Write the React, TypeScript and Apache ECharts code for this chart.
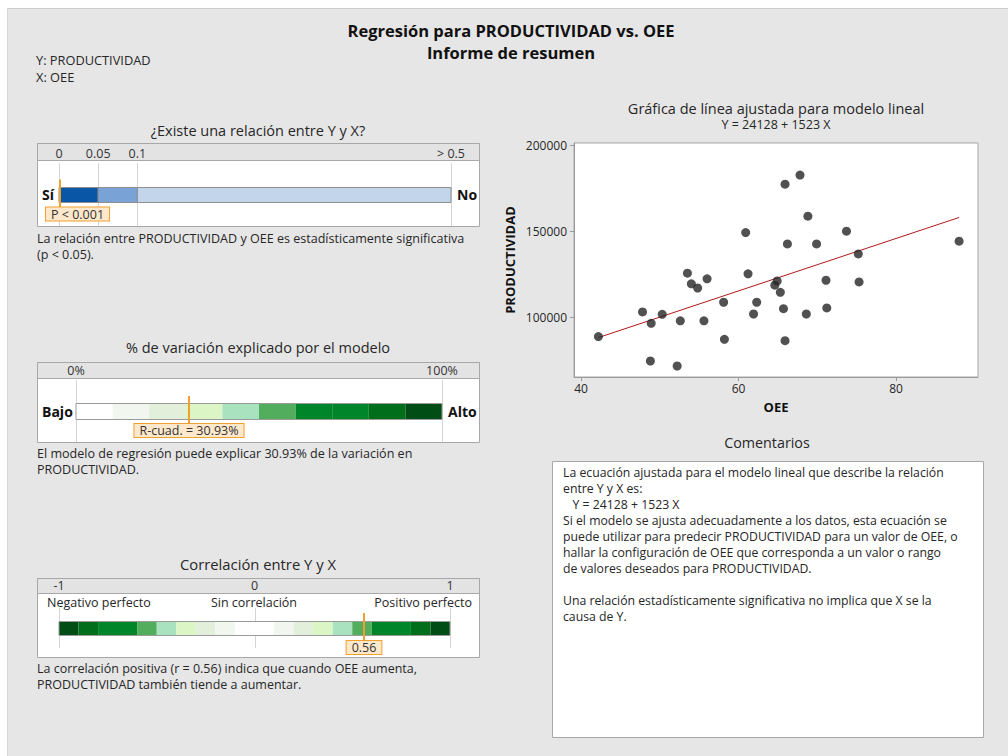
import React, { useEffect, useRef } from "react";
import * as echarts from "echarts";

const FONT = "'Open Sans', 'Noto Sans', sans-serif";

// ---- p-value gauge ----
const pTickValues = [0, 0.05, 0.1, 0.5];
const pTickLabels = ["0", "0.05", "0.1", "> 0.5"];
const pTickUnits = [0, 1, 2, 10]; // display position of each tick on the gauge
const pSegmentColors = ["#0a56a6", "#79a2d6", "#c3d5eb"];
const pValue = 0.001;
const pValueLabel = "P < 0.001";

// ---- R-squared gauge ----
const r2Breaks = [0, 10, 20, 30, 40, 50, 60, 70, 80, 90, 100];
const r2Colors = ["#ffffff", "#f1f7ee", "#e2efda", "#dbf5c4", "#a8e2bf", "#52ae5c", "#00852b", "#00852b", "#006e1a", "#004d15"];
const r2Ticks = [0, 100];
const r2TickLabels = ["0%", "100%"];
const r2Value = 30.93;
const r2ValueLabel = "R-cuad. = 30.93%";

// ---- correlation gauge ----
const corrBreaks = [-1, -0.9, -0.8, -0.6, -0.5, -0.4, -0.3, -0.2, -0.1, 0.1, 0.2, 0.3, 0.4, 0.5, 0.6, 0.8, 0.9, 1];
const corrColors = ["#004d15", "#006e1a", "#00852b", "#52ae5c", "#a8e2bf", "#dbf5c4", "#e2efda", "#f1f7ee", "#ffffff", "#f1f7ee", "#e2efda", "#dbf5c4", "#a8e2bf", "#52ae5c", "#00852b", "#006e1a", "#004d15"];
const corrTicks = [-1, 0, 1];
const corrTickLabels = ["-1", "0", "1"];
const corrValue = 0.56;
const corrValueLabel = "0.56";

// ---- scatter data ----
const oee = [42.2, 47.8, 48.9, 48.8, 50.3, 52.2, 52.6, 53.5, 54.0, 54.8, 55.6, 56.0, 58.1, 58.2, 60.9, 61.2, 61.9, 62.3, 64.6, 64.9, 65.3, 65.7, 65.9, 65.9, 66.2, 67.8, 68.6, 68.8, 69.9, 71.1, 71.2, 73.7, 75.2, 75.3, 88.0];
const productividad = [89000, 103300, 96700, 74800, 101900, 71900, 98100, 125800, 119600, 117200, 98100, 122500, 108900, 87400, 149400, 125400, 102100, 108900, 118800, 121300, 114700, 105200, 177500, 86600, 142800, 182800, 102100, 158900, 142800, 121700, 105600, 150200, 137000, 120700, 144400];
const intercept = 24128;
const slope = 1523;
const xTicks = [40, 60, 80];
const yTicks = [100000, 150000, 200000];

const equation = `Y = ${intercept} + ${slope} X`;

const commentLines = [
  "La ecuación ajustada para el modelo lineal que describe la relación",
  "entre Y y X es:",
  "   " + equation,
  "Si el modelo se ajusta adecuadamente a los datos, esta ecuación se",
  "puede utilizar para predecir PRODUCTIVIDAD para un valor de OEE, o",
  "hallar la configuración de OEE que corresponda a un valor o rango",
  "de valores deseados para PRODUCTIVIDAD.",
  "",
  "Una relación estadísticamente significativa no implica que X se la",
  "causa de Y.",
];

function pToUnit(p: number): number {
  for (let i = 0; i < pTickValues.length - 1; i++) {
    if (p <= pTickValues[i + 1]) {
      const f = (p - pTickValues[i]) / (pTickValues[i + 1] - pTickValues[i]);
      return pTickUnits[i] + f * (pTickUnits[i + 1] - pTickUnits[i]);
    }
  }
  return pTickUnits[pTickUnits.length - 1];
}

function txt(text: string, x: number, y: number, opts: any = {}) {
  const align = opts.align || "left";
  const va = opts.va || "middle";
  const style: any = {
    text,
    x,
    y,
    align,
    textAlign: align,
    verticalAlign: va,
    textVerticalAlign: va,
    fill: opts.color || "#262626",
    fontSize: opts.size || 12,
    fontWeight: opts.bold ? "bold" : "normal",
    fontFamily: FONT,
  };
  if (opts.lineHeight) style.lineHeight = opts.lineHeight;
  return { type: "text", z: -1, style };
}

function rect(x: number, y: number, w: number, h: number, fill: string, stroke?: string) {
  return {
    type: "rect",
    z: -2,
    shape: { x: x + 0.5, y: y + 0.5, width: w, height: h },
    style: { fill, stroke: stroke || "none", lineWidth: stroke ? 1 : 0 },
  };
}

function gaugeX(gridIndex: number, min: number, max: number, values: number[], labels: string[], margin: number) {
  return {
    type: "value",
    gridIndex,
    min,
    max,
    position: "top",
    axisLine: { show: false },
    axisTick: { show: false },
    splitLine: { show: false },
    axisLabel: {
      customValues: values,
      formatter: (v: number) => {
        const i = values.findIndex((t) => Math.abs(t - v) < 1e-9);
        return i >= 0 ? labels[i] : "";
      },
      margin,
      color: "#333",
      fontSize: 12.5,
      fontFamily: FONT,
    },
  };
}

function gaugeY(gridIndex: number) {
  return { type: "value", gridIndex, min: 0, max: 1, show: false };
}

function gridLineSeries(idx: number, positions: number[]) {
  return {
    type: "custom",
    xAxisIndex: idx,
    yAxisIndex: idx,
    z: 1,
    silent: true,
    data: positions.map((p) => [p, 0.5]),
    renderItem: (params: any, api: any) => {
      const c = api.coord([api.value(0), 0.5]);
      const cs = params.coordSys;
      const x = Math.round(c[0]) + 0.5;
      return {
        type: "line",
        shape: { x1: x, y1: cs.y, x2: x, y2: cs.y + cs.height },
        style: { stroke: "#d4d4d4", lineWidth: 1 },
      };
    },
  };
}

function segmentSeries(idx: number, starts: number[], ends: number[], colors: string[], barH: number, segStroke: string | null) {
  return {
    type: "custom",
    xAxisIndex: idx,
    yAxisIndex: idx,
    z: 2,
    silent: true,
    encode: { x: [0, 1], y: 2 },
    data: starts.map((s, i) => ({ value: [s, ends[i], 0.5], itemStyle: { color: colors[i] } })),
    renderItem: (params: any, api: any) => {
      const a = api.coord([api.value(0), api.value(2)]);
      const b = api.coord([api.value(1), api.value(2)]);
      return {
        type: "rect",
        shape: { x: a[0], y: Math.round(a[1] - barH / 2) + 0.5, width: b[0] - a[0], height: barH },
        style: { fill: api.visual("color"), stroke: segStroke || "none", lineWidth: segStroke ? 1 : 0 },
      };
    },
  };
}

function outlineSeries(idx: number, start: number, end: number, barH: number) {
  return {
    type: "custom",
    xAxisIndex: idx,
    yAxisIndex: idx,
    z: 3,
    silent: true,
    encode: { x: [0, 1], y: 2 },
    data: [[start, end, 0.5]],
    renderItem: (params: any, api: any) => {
      const a = api.coord([api.value(0), api.value(2)]);
      const b = api.coord([api.value(1), api.value(2)]);
      return {
        type: "rect",
        shape: { x: a[0], y: Math.round(a[1] - barH / 2) + 0.5, width: b[0] - a[0], height: barH },
        style: { fill: "none", stroke: "#9a9a9a", lineWidth: 1 },
      };
    },
  };
}

function markerSeries(idx: number, value: number, label: string, labelAlign: string, labelOffset: number) {
  return {
    type: "custom",
    xAxisIndex: idx,
    yAxisIndex: idx,
    z: 5,
    silent: true,
    data: [[value, 0.5]],
    renderItem: (params: any, api: any) => {
      const c = api.coord([api.value(0), 0.5]);
      const x = Math.round(c[0]);
      const cy = c[1];
      return {
        type: "group",
        children: [
          {
            type: "line",
            shape: { x1: x, y1: cy - 15, x2: x, y2: cy + 14 },
            style: { stroke: "#f0a030", lineWidth: 2 },
          },
          {
            type: "text",
            style: {
              text: label,
              x: x + labelOffset,
              y: cy + 13,
              align: labelAlign,
              verticalAlign: "top",
              fill: "#333",
              fontSize: 12.5,
              fontFamily: FONT,
              backgroundColor: "#fde8cc",
              borderColor: "#f0a030",
              borderWidth: 1,
              padding: [0, 5, 0, 5],
            },
          },
        ],
      };
    },
  };
}

function buildOption() {
  const pStarts = pTickUnits.slice(0, -1);
  const pEnds = pTickUnits.slice(1);
  const r2Starts = r2Breaks.slice(0, -1);
  const r2Ends = r2Breaks.slice(1);
  const cStarts = corrBreaks.slice(0, -1);
  const cEnds = corrBreaks.slice(1);
  const xMin = Math.min(...oee);
  const xMax = Math.max(...oee);
  const D = 12.55; // description font size
  const T = 14.5; // panel title font size

  const graphic: any[] = [
    rect(6.5, 7.5, 1002, 750, "#e6e6e6"),
    { type: "line", z: -2, shape: { x1: 7, y1: 8.5, x2: 1008, y2: 8.5 }, style: { stroke: "#cccccc", lineWidth: 1 } },
    { type: "line", z: -2, shape: { x1: 7.5, y1: 8, x2: 7.5, y2: 756 }, style: { stroke: "#d8d8d8", lineWidth: 1 } },
    txt("Regresión para PRODUCTIVIDAD vs. OEE", 511, 30, { align: "center", size: 16.5, bold: true, color: "#111" }),
    txt("Informe de resumen", 511, 52, { align: "center", size: 16.5, bold: true, color: "#111" }),
    txt("Y: PRODUCTIVIDAD", 36, 60, { size: 12.8 }),
    txt("X: OEE", 36, 77, { size: 12.8 }),

    // p panel
    txt("¿Existe una relación entre Y y X?", 258, 130, { align: "center", size: T }),
    rect(37, 143, 442, 83, "#ffffff", "#a8a8a8"),
    rect(37, 143, 442, 17, "#e3e3e3", "#a8a8a8"),
    txt("Sí", 42, 194, { bold: true, size: 14, color: "#111" }),
    txt("No", 457, 194, { bold: true, size: 14, color: "#111" }),
    txt("La relación entre PRODUCTIVIDAD y OEE es estadísticamente significativa\n(p < 0.05).", 37, 246.5, { size: D, lineHeight: 16.8 }),

    // R2 panel
    txt("% de variación explicado por el modelo", 258, 347, { align: "center", size: T }),
    rect(37, 362, 442, 80, "#ffffff", "#a8a8a8"),
    rect(37, 362, 442, 16, "#e3e3e3", "#a8a8a8"),
    txt("Bajo", 42, 411, { bold: true, size: 14, color: "#111" }),
    txt("Alto", 448, 411, { bold: true, size: 14, color: "#111" }),
    txt("El modelo de regresión puede explicar 30.93% de la variación en\nPRODUCTIVIDAD.", 37, 461.5, { size: D, lineHeight: 16.8 }),

    // corr panel
    txt("Correlación entre Y y X", 258, 564, { align: "center", size: 14.8 }),
    rect(37, 578, 442, 79, "#ffffff", "#a8a8a8"),
    rect(37, 578, 442, 15, "#e3e3e3", "#a8a8a8"),
    txt("Negativo perfecto", 47, 602, { size: 12.5 }),
    txt("Sin correlación", 254, 602, { align: "center", size: 12.5 }),
    txt("Positivo perfecto", 472, 602, { align: "right", size: 12.5 }),
    txt("La correlación positiva (r = 0.56) indica que cuando OEE aumenta,\nPRODUCTIVIDAD también tiende a aumentar.", 37, 676.5, { size: 12.5, lineHeight: 16.8 }),

    // scatter titles
    txt("Gráfica de línea ajustada para modelo lineal", 776, 108, { align: "center", size: 14.5 }),
    txt(equation, 776, 124, { align: "center", size: 12.5 }),

    // comments
    txt("Comentarios", 767, 442, { align: "center", size: 14.3 }),
    rect(552, 461, 431, 276, "#ffffff", "#a8a8a8"),
    txt(commentLines.join("\n"), 563, 465, { size: 12.25, lineHeight: 15.9, va: "top" }),
  ];

  return {
    animation: false,
    textStyle: { fontFamily: FONT },
    graphic,
    grid: [
      { left: 59, top: 163, width: 392, height: 63 },
      { left: 76, top: 380, width: 366, height: 62 },
      { left: 59, top: 608, width: 391, height: 40 },
      { left: 574, top: 143, width: 404, height: 234, show: true, backgroundColor: "#ffffff", borderColor: "#a8a8a8", borderWidth: 1 },
    ],
    xAxis: [
      gaugeX(0, 0, pTickUnits[pTickUnits.length - 1], pTickUnits, pTickLabels, 3),
      gaugeX(1, r2Breaks[0], r2Breaks[r2Breaks.length - 1], r2Ticks, r2TickLabels, 3),
      gaugeX(2, corrBreaks[0], corrBreaks[corrBreaks.length - 1], corrTicks, corrTickLabels, 16),
      {
        type: "value",
        gridIndex: 3,
        min: 39.1,
        max: 90.4,
        axisLine: { show: true, lineStyle: { color: "#9a9a9a" } },
        axisTick: { show: true, length: 4, customValues: xTicks, lineStyle: { color: "#9a9a9a" } },
        axisLabel: { customValues: xTicks, color: "#262626", fontSize: 12, margin: 5, fontFamily: FONT, formatter: (v: number) => String(v) },
        splitLine: { show: false },
        name: "OEE",
        nameLocation: "middle",
        nameGap: 23,
        nameTextStyle: { fontWeight: "bold", fontSize: 13, color: "#111", fontFamily: FONT },
      },
    ],
    yAxis: [
      gaugeY(0),
      gaugeY(1),
      gaugeY(2),
      {
        type: "value",
        gridIndex: 3,
        min: 65500,
        max: 201400,
        axisLine: { show: true, lineStyle: { color: "#9a9a9a" } },
        axisTick: { show: true, length: 4, customValues: yTicks, lineStyle: { color: "#9a9a9a" } },
        axisLabel: { customValues: yTicks, color: "#262626", fontSize: 12, margin: 7, fontFamily: FONT, formatter: (v: number) => String(v) },
        splitLine: { show: false },
        name: "PRODUCTIVIDAD",
        nameLocation: "middle",
        nameGap: 58,
        nameRotate: 90,
        nameTextStyle: { fontWeight: "bold", fontSize: 13, color: "#111", fontFamily: FONT },
      },
    ],
    series: [
      gridLineSeries(0, pTickUnits),
      segmentSeries(0, pStarts, pEnds, pSegmentColors, 15, "#8f8f8f"),
      markerSeries(0, pToUnit(pValue), pValueLabel, "left", -14),

      gridLineSeries(1, r2Ticks),
      segmentSeries(1, r2Starts, r2Ends, r2Colors, 16, null),
      outlineSeries(1, r2Breaks[0], r2Breaks[r2Breaks.length - 1], 16),
      markerSeries(1, r2Value, r2ValueLabel, "center", 0),

      gridLineSeries(2, corrTicks),
      segmentSeries(2, cStarts, cEnds, corrColors, 14, null),
      outlineSeries(2, corrBreaks[0], corrBreaks[corrBreaks.length - 1], 14),
      markerSeries(2, corrValue, corrValueLabel, "center", 0),

      {
        type: "line",
        xAxisIndex: 3,
        yAxisIndex: 3,
        data: [
          [xMin, intercept + slope * xMin],
          [xMax, intercept + slope * xMax],
        ],
        symbol: "none",
        lineStyle: { color: "#b01818", width: 1 },
        z: 3,
      },
      {
        type: "scatter",
        xAxisIndex: 3,
        yAxisIndex: 3,
        data: oee.map((x, i) => [x, productividad[i]]),
        symbol: "circle",
        symbolSize: 9,
        itemStyle: { color: "#262626" },
        z: 4,
      },
    ],
  };
}

export default function App() {
  const ref = useRef<HTMLDivElement>(null);
  useEffect(() => {
    if (!ref.current) return;
    const chart = echarts.init(ref.current, null, { renderer: "svg", width: 1008, height: 756 });
    chart.setOption(buildOption() as any);
    return () => chart.dispose();
  }, []);
  return <div ref={ref} style={{ position: "absolute", left: 0, top: 0, width: 1008, height: 756 }} />;
}
